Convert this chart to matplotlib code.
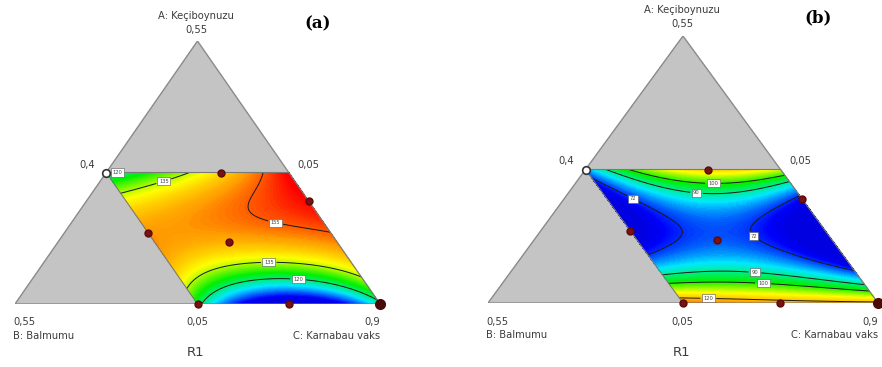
import numpy as np
import matplotlib
matplotlib.use("Agg")
import matplotlib.pyplot as plt
from matplotlib.colors import LinearSegmentedColormap

W, H = 882, 367

# ---- data -------------------------------------------------------------
# response values at (u, v) nodes of the constrained region
# rows: v = 0, 0.5, 1 (bottom -> top) ; cols: u = 0, 0.5, 1 (left -> right)
resp_a = [[123, 88, 117],
          [151, 149, 153],
          [118, 137, 163]]
resp_b = [[128, 124, 122],
          [62, 74, 52],
          [79, 115, 110]]
levels_a = [120, 135, 155]
levels_b = [72, 90, 100, 120]
range_a = (95, 162)
range_b = (64, 138)

# contour-label anchor spots in region coordinates (u, v)
label_uv_a = [(0.08, 0.97), (0.27, 0.89), (0.81, 0.73), (0.57, 0.36), (0.63, 0.16)]
label_uv_b = [(0.63, 0.95), (0.49, 0.84), (0.14, 0.79), (0.6, 0.49),
              (0.5, 0.26), (0.47, 0.12), (0.16, 0.06)]

# design points in region coordinates (u, v)
design_u = [0.63, 1.0, 0.0, 0.41, 0.0, 0.5]
design_v = [1.0, 0.78, 0.54, 0.47, 0.0, 0.0]
open_pt = (0.0, 1.0)
vertex_pt = (1.0, 0.0)

axis_labels = ["A: Keçiboynuzu", "B: Balmumu", "C: Karnabau vaks"]
tick_top, tick_left_mid, tick_right_mid = "0,55", "0,4", "0,05"
tick_bl, tick_bm, tick_br = "0,55", "0,05", "0,9"
panel_tags = ["(a)", "(b)"]
resp_name = "R1"

# ---- helpers ------------------------------------------------------------
def bary_to_xy(a, b, c):
    # L=(0,0) R=(1,0) T=(0.5,1)
    return c + 0.5 * a, a

def region_to_xy(u, v):
    a = 0.5 * np.asarray(v, float)
    b = 0.5 * (1 - np.asarray(u, float))
    c = 1 - a - b
    return bary_to_xy(a, b, c)

def lag(t):
    return [2 * (t - 0.5) * (t - 1), -4 * t * (t - 1), 2 * t * (t - 0.5)]

def surface(nodes, U, V):
    N = np.array(nodes, float)
    lu, lv = lag(U), lag(V)
    Z = np.zeros_like(U)
    for j in range(3):
        for i in range(3):
            Z += N[j, i] * lu[i] * lv[j]
    return Z

cmap = LinearSegmentedColormap.from_list(
    "de", [(0.0, "#0000e0"), (0.07, "#0000fa"), (0.27, "#00e8ff"),
           (0.47, "#00f000"), (0.66, "#ffff00"), (0.83, "#ff9900"),
           (1.0, "#ff0000")])

fig = plt.figure(figsize=(W / 100, H / 100), dpi=100)
plt.rcParams['font.family'] = ['DejaVu Sans']

def panel(box, nodes, levels, rng, label_uv, txt):
    l, t, r, b = box  # pixel box of triangle
    ax = fig.add_axes([l / W, 1 - b / H, (r - l) / W, (b - t) / H])
    ax.set_xlim(0, 1)
    ax.set_ylim(0, 1)
    ax.axis("off")
    tri = plt.Polygon([(0, 0), (1, 0), (0.5, 1)], closed=True,
                      fc="#c4c4c4", ec="#8a8a8a", lw=1.0, zorder=1)
    ax.add_patch(tri)
    uu = np.linspace(0, 1, 240)
    U, V = np.meshgrid(uu, uu)
    X, Y = region_to_xy(U, V)
    Z = surface(nodes, U, V)
    ax.contourf(X, Y, Z, levels=np.linspace(rng[0], rng[1], 120),
                cmap=cmap, extend="both", zorder=2)
    cs = ax.contour(X, Y, Z, levels=levels, colors="#1a1a1a",
                    linewidths=0.7, zorder=3)
    pos = [tuple(np.array(region_to_xy(u, v)).tolist()) for u, v in label_uv]
    lbl = ax.clabel(cs, fmt="%d", fontsize=3.7, inline=True,
                    inline_spacing=3, manual=pos)
    for tx in lbl:
        tx.set_bbox(dict(boxstyle="square,pad=0.3", fc="white",
                         ec="#555555", lw=0.4))
        tx.set_color("#444444")
        tx.set_rotation(0)
    # region outline
    px, py = region_to_xy(np.array([0, 1, 1, 0, 0]), np.array([1, 1, 0, 0, 1]))
    ax.plot(px, py, color="#7a7a7a", lw=0.8, zorder=4)
    dx, dy = region_to_xy(np.array(design_u), np.array(design_v))
    ax.plot(dx, dy, "o", ms=5, color="#7b1212", mec="#5a0a0a", zorder=6,
            clip_on=False)
    vx, vy = region_to_xy(*vertex_pt)
    ax.plot([vx], [vy], "o", ms=7, color="#4a0a0a", zorder=6, clip_on=False)
    ox, oy = region_to_xy(*open_pt)
    ax.plot([ox], [oy], "o", ms=5.5, mfc="white", mec="#333333", mew=1.2,
            zorder=7, clip_on=False)

    def ft(x, y, s, ha="center", **kw):
        fig.text(x / W, 1 - y / H, s, ha=ha, va="center",
                 color=kw.pop("color", "#3c3c3c"),
                 fontsize=kw.pop("fontsize", 7.2), **kw)
    for (x, y, s, ha, kw) in txt:
        ft(x, y, s, ha, **kw)
    return ax

tag_style = dict(fontsize=12, fontweight="bold", family="DejaVu Serif",
                 color="black")
panel((15, 41, 380, 304), resp_a, levels_a, range_a, label_uv_a, [
    (196, 16, axis_labels[0], "center", {}),
    (196, 30, tick_top, "center", {}),
    (318, 24, panel_tags[0], "center", dict(tag_style)),
    (95, 165, tick_left_mid, "right", {}),
    (297, 165, tick_right_mid, "left", {}),
    (13, 322, tick_bl, "left", {}),
    (13, 336, axis_labels[1], "left", {}),
    (197, 322, tick_bm, "center", {}),
    (380, 322, tick_br, "right", {}),
    (380, 336, axis_labels[2], "right", {}),
    (196, 353, resp_name, "center", dict(fontsize=9.5)),
])
panel((488, 36, 878, 303), resp_b, levels_b, range_b, label_uv_b, [
    (682, 10, axis_labels[0], "center", {}),
    (682, 24, tick_top, "center", {}),
    (818, 18, panel_tags[1], "center", dict(tag_style)),
    (574, 161, tick_left_mid, "right", {}),
    (789, 161, tick_right_mid, "left", {}),
    (486, 322, tick_bl, "left", {}),
    (486, 335, axis_labels[1], "left", {}),
    (682, 322, tick_bm, "center", {}),
    (878, 322, tick_br, "right", {}),
    (878, 335, axis_labels[2], "right", {}),
    (682, 353, resp_name, "center", dict(fontsize=9.5)),
])

fig.savefig("out.png", dpi=100, facecolor="white")
